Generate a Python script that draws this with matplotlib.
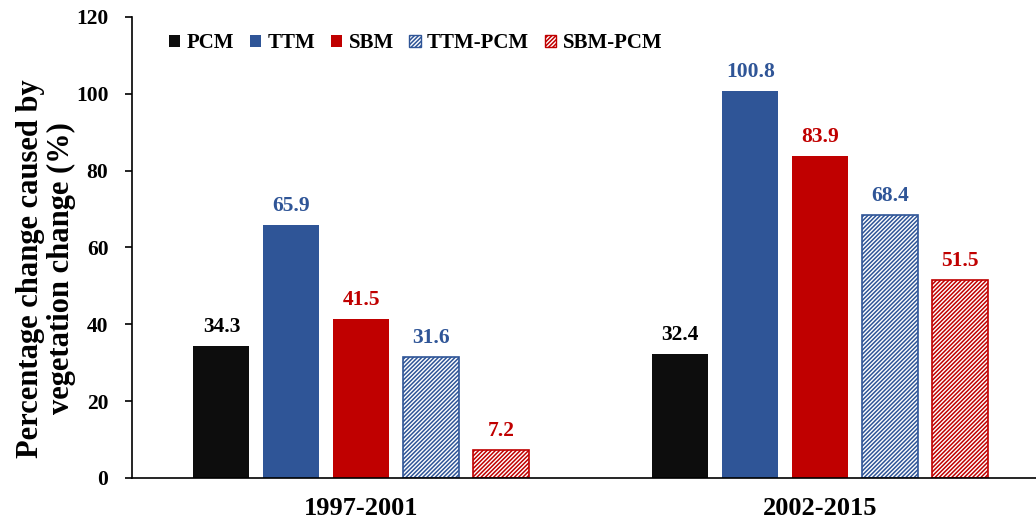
import numpy as np
import matplotlib.pyplot as plt
from matplotlib.patches import Patch

plt.rcParams['font.family'] = ['Liberation Serif', 'DejaVu Serif']
plt.rcParams['font.weight'] = 'bold'
plt.rcParams['hatch.linewidth'] = 1.1

periods = ['1997-2001', '2002-2015']
series = ['PCM', 'TTM', 'SBM', 'TTM-PCM', 'SBM-PCM']
values = {
    'PCM': [34.3, 32.4],
    'TTM': [65.9, 100.8],
    'SBM': [41.5, 83.9],
    'TTM-PCM': [31.6, 68.4],
    'SBM-PCM': [7.2, 51.5],
}
colors = ['#0d0d0d', '#2f5597', '#c00000', '#2f5597', '#c00000']
hatched = [False, False, False, True, True]

fig = plt.figure(figsize=(10.36, 5.26), dpi=100)
ax = fig.add_axes([0.1274, 0.0913, 0.8726, 0.8764])

x = np.arange(len(periods))
step, width = 0.1525, 0.122
handles = []
for i, (name, c, h) in enumerate(zip(series, colors, hatched)):
    pos = x + (i - 2) * step
    if h:
        bars = ax.bar(pos, values[name], width, facecolor='white', edgecolor=c,
                      hatch='////////', linewidth=1.2)
        handles.append(Patch(facecolor='white', edgecolor=c, hatch='////////', label=name))
    else:
        bars = ax.bar(pos, values[name], width, color=c)
        handles.append(Patch(facecolor=c, label=name))
    for b, v in zip(bars, values[name]):
        ax.text(b.get_x() + b.get_width() / 2, v + 2.3, '{:.1f}'.format(v),
                ha='center', va='bottom', color='black' if i == 0 else c,
                fontsize=15.5, fontweight='bold')

ax.set_xlim(-0.5, 1.47)
ax.set_ylim(0, 120)
ax.set_yticks(range(0, 121, 20))
ax.set_xticks(x)
ax.set_xticklabels(periods, fontsize=19, fontweight='bold')
ax.tick_params(axis='x', length=0, pad=14)
ax.tick_params(axis='y', labelsize=15.5, length=5, width=1.2, direction='out', pad=12)
ax.spines['top'].set_visible(False)
ax.spines['right'].set_visible(False)
ax.spines['left'].set_linewidth(1.2)
ax.spines['bottom'].set_linewidth(1.2)
ax.set_ylabel('Percentage change caused by\nvegetation change (%)',
              fontsize=22, fontweight='bold', linespacing=1.1)
ax.yaxis.set_label_coords(-0.062, 0.455)

ax.legend(handles=handles, ncol=5, frameon=False, loc='upper left',
          bbox_to_anchor=(0.02, 1.005), fontsize=15, handlelength=0.55,
          handleheight=0.55, handletextpad=0.3, columnspacing=0.75)

fig.savefig('out.png', dpi=100)
